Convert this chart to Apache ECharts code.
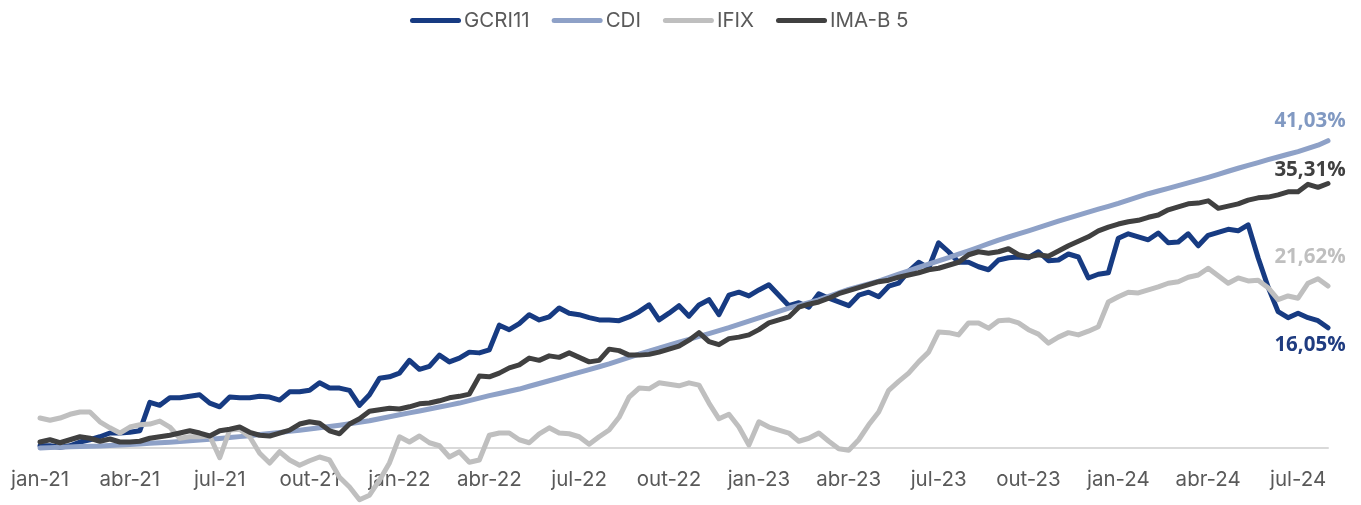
<!DOCTYPE html>
<html>
<head>
<meta charset="utf-8">
<script src="https://cdn.jsdelivr.net/npm/echarts@6/dist/echarts.min.js"></script>
<style>
html,body{margin:0;padding:0;background:#fff;}
#chart{width:1361px;height:505px;}
</style>
</head>
<body>
<div id="chart"></div>
<script>
// Sample dates: 1st, 11th and 21st of each month, Jan 2021 – Jul 2024, plus 1 Aug 2024
const CATS = [];
for (let y = 2021; y <= 2024; y++) {
  for (let m = 1; m <= 12; m++) {
    if (y === 2024 && m > 7) break;
    for (const d of [1, 11, 21]) {
      CATS.push(y + '-' + String(m).padStart(2, '0') + '-' + String(d).padStart(2, '0'));
    }
  }
}
CATS.push('2024-08-01');

const TICK_LABELS = ['jan-21','abr-21','jul-21','out-21','jan-22','abr-22','jul-22','out-22',
  'jan-23','abr-23','jul-23','out-23','jan-24','abr-24','jul-24'];

const SERIES_NAMES = ['GCRI11', 'CDI', 'IFIX', 'IMA-B 5'];

// Cumulative return, %
const GCRI11 = [
  0.3, 0.3, 0.1, 0.3, 0.8, 1.1, 1.5, 2.0, 2.0, 2.1,
  2.3, 6.1, 5.7, 6.7, 6.7, 6.9, 7.1, 6.0, 5.5, 6.8,
  6.7, 6.7, 6.9, 6.8, 6.4, 7.5, 7.5, 7.7, 8.7, 8.0,
  8.0, 7.7, 5.7, 7.1, 9.3, 9.5, 10.0, 11.7, 10.5, 10.9,
  12.4, 11.5, 12.0, 12.8, 12.7, 13.1, 16.4, 15.8, 16.6, 17.8,
  17.1, 17.5, 18.7, 18.0, 17.8, 17.4, 17.1, 17.1, 17.0, 17.5,
  18.2, 19.1, 17.1, 18.0, 19.0, 17.6, 19.1, 19.8, 17.8, 20.4,
  20.8, 20.3, 21.1, 21.8, 20.4, 19.0, 19.4, 18.8, 20.6, 20.0,
  19.5, 19.0, 20.4, 20.8, 20.2, 21.6, 22.0, 23.6, 24.8, 24.0,
  27.4, 26.2, 24.8, 24.8, 24.2, 23.8, 25.1, 25.4, 25.5, 25.4,
  26.2, 25.0, 25.1, 25.9, 25.5, 22.7, 23.2, 23.4, 28.0, 28.6,
  28.2, 27.8, 28.7, 27.4, 27.5, 28.6, 27.0, 28.4, 28.8, 29.2,
  29.0, 29.8, 25.4, 21.5, 18.2, 17.4, 18.0, 17.4, 17.0, 16.05
];
const CDI = [
  0, 0.05, 0.10, 0.15, 0.19, 0.24, 0.28, 0.35, 0.41, 0.48,
  0.55, 0.62, 0.69, 0.78, 0.87, 0.96, 1.06, 1.17, 1.27, 1.39,
  1.52, 1.64, 1.79, 1.93, 2.08, 2.23, 2.38, 2.53, 2.70, 2.86,
  3.03, 3.23, 3.44, 3.64, 3.91, 4.17, 4.44, 4.69, 4.95, 5.20,
  5.47, 5.73, 6.00, 6.33, 6.66, 6.99, 7.28, 7.58, 7.87, 8.24,
  8.61, 8.98, 9.35, 9.72, 10.09, 10.47, 10.85, 11.23, 11.66, 12.10,
  12.53, 12.93, 13.33, 13.73, 14.12, 14.50, 14.89, 15.28, 15.67, 16.06,
  16.49, 16.93, 17.36, 17.80, 18.24, 18.68, 19.04, 19.41, 19.77, 20.24,
  20.70, 21.17, 21.54, 21.92, 22.29, 22.75, 23.20, 23.66, 24.10, 24.54,
  24.98, 25.43, 25.87, 26.32, 26.80, 27.28, 27.76, 28.17, 28.59, 29.00,
  29.43, 29.86, 30.29, 30.69, 31.09, 31.49, 31.88, 32.27, 32.66, 33.09,
  33.52, 33.95, 34.31, 34.66, 35.02, 35.39, 35.77, 36.14, 36.54, 36.95,
  37.35, 37.73, 38.11, 38.49, 38.85, 39.22, 39.58, 40.00, 40.43, 41.03
];
const IFIX = [
  4.0, 3.7, 4.0, 4.5, 4.8, 4.8, 3.5, 2.7, 2.0, 2.8,
  3.1, 3.2, 3.6, 2.8, 1.3, 1.5, 1.5, 1.6, -1.3, 2.4,
  2.5, 1.5, -0.7, -2.0, -0.5, -1.6, -2.3, -1.7, -1.2, -1.6,
  -3.9, -5.2, -6.9, -6.3, -4.3, -2.0, 1.5, 0.8, 1.6, 0.7,
  0.3, -1.2, -0.5, -1.9, -1.6, 1.7, 2.0, 2.0, 1.1, 0.7,
  1.9, 2.7, 2.0, 1.9, 1.5, 0.5, 1.5, 2.4, 4.1, 6.8,
  8.0, 7.9, 8.7, 8.5, 8.3, 8.7, 8.4, 6.0, 3.9, 4.5,
  2.8, 0.4, 3.5, 2.8, 2.4, 2.0, 0.9, 1.3, 2.0, 0.9,
  -0.1, -0.3, 1.1, 3.1, 4.8, 7.7, 8.9, 10.0, 11.5, 12.8,
  15.5, 15.4, 15.1, 16.7, 16.7, 16.0, 17.0, 17.1, 16.7, 15.8,
  15.2, 14.0, 14.8, 15.4, 15.1, 15.6, 16.2, 19.5, 20.2, 20.8,
  20.7, 21.1, 21.5, 22.0, 22.2, 22.8, 23.1, 24.0, 23.0, 22.0,
  22.7, 22.3, 22.4, 21.4, 19.8, 20.3, 20.0, 22.0, 22.6, 21.62
];
const IMAB5 = [
  0.8, 1.1, 0.7, 1.1, 1.5, 1.3, 0.9, 1.2, 0.8, 0.8,
  0.9, 1.3, 1.5, 1.7, 2.0, 2.3, 2.0, 1.6, 2.3, 2.5,
  2.8, 2.1, 1.7, 1.6, 2.0, 2.4, 3.2, 3.5, 3.3, 2.3,
  1.9, 3.2, 3.9, 4.9, 5.1, 5.3, 5.2, 5.5, 5.9, 6.0,
  6.3, 6.7, 6.9, 7.2, 9.6, 9.5, 10.0, 10.7, 11.1, 12.0,
  11.7, 12.3, 12.1, 12.7, 12.1, 11.5, 11.7, 13.2, 13.0, 12.4,
  12.4, 12.5, 12.8, 13.2, 13.6, 14.4, 15.4, 14.2, 13.8, 14.6,
  14.8, 15.1, 15.8, 16.7, 17.1, 17.5, 18.8, 19.2, 19.5, 20.0,
  20.6, 21.0, 21.4, 21.8, 22.2, 22.4, 22.8, 23.1, 23.4, 23.8,
  24.0, 24.4, 24.8, 25.8, 26.2, 26.0, 26.2, 26.6, 25.8, 25.5,
  25.8, 25.6, 26.3, 27.0, 27.6, 28.2, 29.0, 29.5, 29.9, 30.2,
  30.4, 30.8, 31.1, 31.8, 32.2, 32.6, 32.7, 33.0, 32.0, 32.3,
  32.6, 33.1, 33.4, 33.5, 33.8, 34.2, 34.2, 35.2, 34.8, 35.31
];

const COLORS = ['#173B82', '#8EA1C7', '#BFBFBF', '#404040'];
const LABEL_COLORS = ['#1F3C80', '#8199C2', '#BFBFBF', '#404040'];
const LABEL_OFFSETS = [[-18, 17], [-18, -20], [-18, -29], [-18, -13]];
const VALUES = [GCRI11, CDI, IFIX, IMAB5];

const fmt = v => v.toFixed(2).replace('.', ',') + '%';
const last = CATS.length - 1;

const chart = echarts.init(document.getElementById('chart'), null, {renderer: 'canvas'});
chart.setOption({
  animation: false,
  backgroundColor: '#ffffff',
  legend: {
    data: SERIES_NAMES,
    left: 410,
    top: 10,
    padding: 0,
    itemWidth: 51,
    itemHeight: 5,
    itemGap: 22,
    icon: 'path://M2.5,0 L48.5,0 A2.5,2.5 0 0 1 48.5,5 L2.5,5 A2.5,2.5 0 0 1 2.5,0 Z',
    textStyle: {fontFamily: 'Inter', fontSize: 20.5, color: '#595959', padding: [0, 0, 0, -2]}
  },
  // grid bottom edge sits on the 0% line; negative IFIX values are drawn below it (clip off)
  grid: {left: 40, right: 33, top: 73.5, bottom: 57, containLabel: false, outerBoundsMode: 'none'},
  xAxis: {
    type: 'category',
    data: CATS,
    boundaryGap: false,
    axisLine: {show: true, onZero: true, lineStyle: {color: '#D9D9D9', width: 2}},
    axisTick: {show: false},
    splitLine: {show: false},
    axisLabel: {
      interval: 8,
      margin: 21,
      fontFamily: 'Inter',
      fontSize: 20.5,
      color: '#595959',
      formatter: (v, idx) => TICK_LABELS[Math.round(idx / 9)]
    }
  },
  yAxis: {type: 'value', min: 0, max: 50, show: false, splitLine: {show: false}},
  series: SERIES_NAMES.map((name, k) => ({
    name: name,
    type: 'line',
    data: VALUES[k],
    showSymbol: false,
    symbol: 'none',
    clip: false,
    lineStyle: {width: 5, color: COLORS[k], cap: 'round', join: 'round'},
    itemStyle: {color: COLORS[k]},
    markPoint: {
      symbol: 'circle',
      symbolSize: 1,
      silent: true,
      itemStyle: {color: 'rgba(0,0,0,0)'},
      label: {
        show: true,
        position: 'inside',
        offset: LABEL_OFFSETS[k],
        fontFamily: 'Open Sans',
        fontWeight: 'bold',
        fontSize: 20.5,
        color: LABEL_COLORS[k],
        formatter: p => fmt(p.value)
      },
      data: [{coord: [CATS[last], VALUES[k][last]], value: VALUES[k][last]}]
    }
  }))
});
</script>
</body>
</html>
